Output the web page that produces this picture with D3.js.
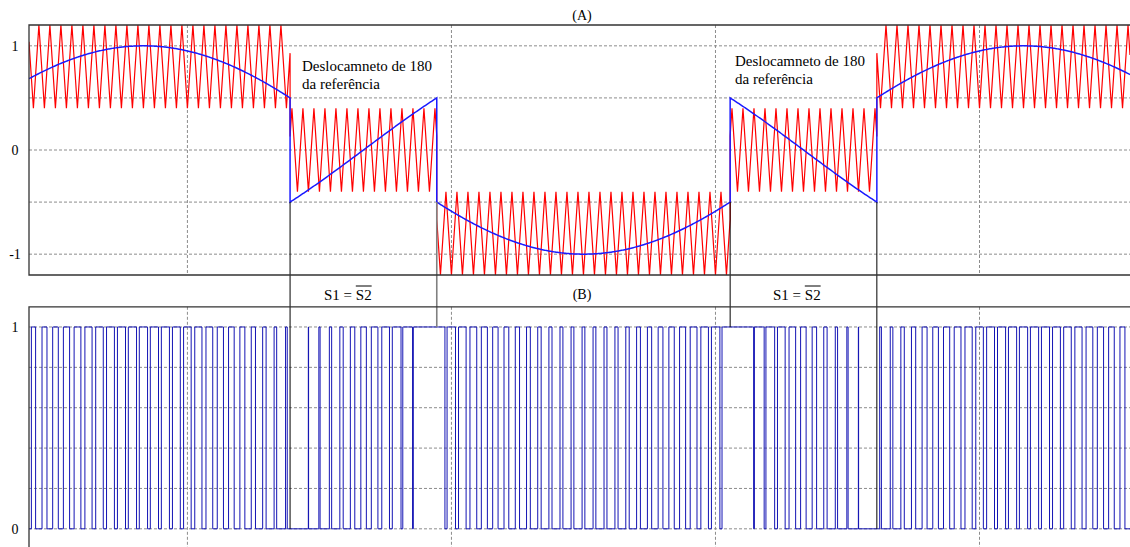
<!DOCTYPE html>
<html>
<head>
<meta charset="utf-8">
<script src="https://cdn.jsdelivr.net/npm/d3@7"></script>
<style>
body { margin: 0; background: #fff; }
</style>
</head>
<body>
<script>
const svgWidth = 1130
const svgHeight = 547

// values (time in ms)
const refFreqHz = [60]
const carrierFreqHz = [4800]
const segBounds = [2, 6.944, 9.722, 15.278, 18.056, 22.85]
const segRefSign = [1, -1, 1, -1, 1]
const segBandLow = [0.4, -0.4, -1.2, -0.4, 0.4]
const segBandHigh = [1.2, 0.4, -0.4, 0.4, 1.2]
const timeGrid = [5, 10, 15, 20]
const topGrid = [-1, -0.5, 0, 0.5, 1]
const topTicks = [-1, 0, 1]
const botGrid = [0, 0.2, 0.4, 0.6, 0.8, 1]
const botTicks = [0, 1]
const markerBottom = [0, 1, 1, 0]
const markerColor = ["#000", "#808080", "#000", "#000"]

const serif = "'Liberation Serif', 'DejaVu Serif', 'Times New Roman', serif"

const x = d3.scaleLinear().domain([2, 22.85]).range([29, 1130])
const yA = d3.scaleLinear().domain([-1.2, 1.2]).range([275, 25])
const yB = d3.scaleLinear().domain([-0.1, 1.1]).range([549, 306.8])

const svg = d3.select("body").append("svg")
    .attr("width", svgWidth)
    .attr("height", svgHeight)
    .style("font-family", serif)

svg.append("defs").append("clipPath").attr("id", "clipA")
    .append("rect").attr("x", 29).attr("y", 25).attr("width", 1101).attr("height", 250)

const ref = (t, i) => segRefSign[i] * Math.sin(2 * Math.PI * refFreqHz[0] * t / 1000)
const tri = u => { const f = u - Math.floor(u); return 1 - Math.abs(1 - 2 * f) }
const car = (t, i) => segBandLow[i] + (segBandHigh[i] - segBandLow[i]) * tri(t * carrierFreqHz[0] / 1000)

// grids
const gridStyle = g => g.attr("stroke", "#8c8c8c").attr("stroke-width", 1).attr("stroke-dasharray", "3,2")

svg.append("g").call(gridStyle).selectAll("line").data(topGrid).join("line")
    .attr("x1", 29).attr("x2", 1130).attr("y1", d => yA(d)).attr("y2", d => yA(d))
svg.append("g").call(gridStyle).selectAll("line").data(timeGrid).join("line")
    .attr("x1", d => x(d)).attr("x2", d => x(d)).attr("y1", 25).attr("y2", 275)
svg.append("g").call(gridStyle).selectAll("line").data(botGrid).join("line")
    .attr("x1", 29).attr("x2", 1130).attr("y1", d => yB(d)).attr("y2", d => yB(d))
svg.append("g").call(gridStyle).selectAll("line").data(timeGrid).join("line")
    .attr("x1", d => x(d)).attr("x2", d => x(d)).attr("y1", 306.8).attr("y2", 547)

// carrier
const carPts = []
const half = 1000 / carrierFreqHz[0] / 2
segBounds.slice(0, -1).forEach((t0, i) => {
    const t1 = segBounds[i + 1]
    carPts.push([t0, car(t0, i)])
    for (let k = Math.ceil(t0 / half); k * half < t1; k++) carPts.push([k * half, car(k * half, i)])
    carPts.push([t1, car(t1, i)])
})

// reference
const refPts = []
segBounds.slice(0, -1).forEach((t0, i) => {
    const t1 = segBounds[i + 1]
    for (let t = t0; t < t1; t += 0.02) refPts.push([t, ref(t, i)])
    refPts.push([t1, ref(t1, i)])
})

// gate signal
const pwmPts = []
let state = null
for (let i = 0; i < segBounds.length - 1; i++) {
    for (let t = segBounds[i]; t < segBounds[i + 1]; t += 0.0005) {
        const s = ref(t, i) > car(t, i) ? 1 : 0
        if (s !== state) { pwmPts.push([t, s]); state = s }
    }
}
pwmPts.push([segBounds[segBounds.length - 1], state])

const lineA = d3.line().x(d => x(d[0])).y(d => yA(d[1]))
const lineB = d3.line().x(d => x(d[0])).y(d => yB(d[1])).curve(d3.curveStepAfter)

const plotA = svg.append("g").attr("clip-path", "url(#clipA)")
plotA.append("path").attr("d", lineA(carPts))
    .attr("fill", "none").attr("stroke", "#ff0000").attr("stroke-width", 1.2)
plotA.append("path").attr("d", lineA(refPts))
    .attr("fill", "none").attr("stroke", "#1a1aff").attr("stroke-width", 1.5)

svg.append("path").attr("d", lineB(pwmPts))
    .attr("fill", "none").attr("stroke", "#1414b4").attr("stroke-width", 1)

// segment markers
svg.append("g").selectAll("line").data(segBounds.slice(1, -1)).join("line")
    .attr("x1", d => x(d)).attr("x2", d => x(d))
    .attr("y1", yA(-0.5))
    .attr("y2", (d, i) => yB(markerBottom[i]))
    .attr("stroke", (d, i) => markerColor[i])
    .attr("stroke-width", (d, i) => i === 1 ? 1.6 : 1)

// frames
const frame = svg.append("g").attr("stroke", "#333").attr("stroke-width", 1.3).attr("fill", "none")
frame.append("path").attr("d", "M1130,25H29V275H1130")
frame.append("path").attr("d", "M1130,306.8H29V547")

// tick labels
svg.append("g").selectAll("text").data(topTicks).join("text")
    .attr("x", 15).attr("y", d => yA(d) + 5)
    .attr("text-anchor", "middle").attr("font-size", 14)
    .text(d => d)
svg.append("g").selectAll("text").data(botTicks).join("text")
    .attr("x", 15).attr("y", d => yB(d) + 5)
    .attr("text-anchor", "middle").attr("font-size", 14)
    .text(d => d)

// titles and notes
svg.append("text").attr("x", 582).attr("y", 20).attr("text-anchor", "middle").attr("font-size", 14).text("(A)")
svg.append("text").attr("x", 582).attr("y", 299).attr("text-anchor", "middle").attr("font-size", 14).text("(B)")

const notes = [[302, 71], [735, 66]]
notes.forEach(([nx, ny]) => {
    svg.append("text").attr("x", nx).attr("y", ny).attr("font-size", 15).text("Deslocamneto de 180")
    svg.append("text").attr("x", nx).attr("y", ny + 18).attr("font-size", 15).text("da referência")
})

const eqs = [[324, 300], [773, 300]]
eqs.forEach(([ex, ey]) => {
    const t = svg.append("text").attr("x", ex).attr("y", ey).attr("font-size", 15).text("S1 = S2")
    const n = t.node()
    const xs = n.getStartPositionOfChar(5).x
    const xe = n.getEndPositionOfChar(6).x
    svg.append("line").attr("x1", xs).attr("x2", xe)
        .attr("y1", ey - 14).attr("y2", ey - 14).attr("stroke", "#000").attr("stroke-width", 1)
})
</script>
</body>
</html>
